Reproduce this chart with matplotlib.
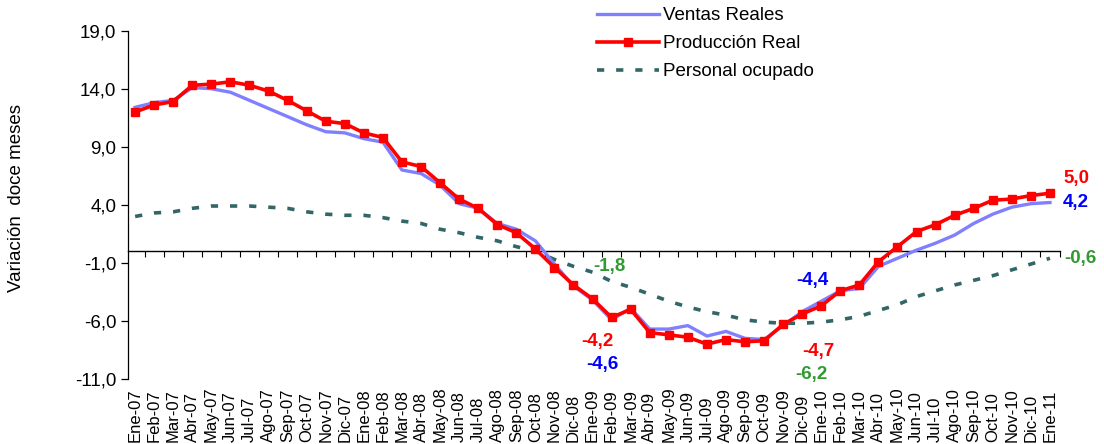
import numpy as np
import matplotlib
matplotlib.use("Agg")
import matplotlib.pyplot as plt

plt.rcParams['font.family'] = ['Liberation Sans', 'DejaVu Sans']

# meses Ene-07 .. Ene-11
meses = ['Ene', 'Feb', 'Mar', 'Abr', 'May', 'Jun', 'Jul', 'Ago', 'Sep', 'Oct', 'Nov', 'Dic']
etiquetas = [f"{m}-{a:02d}" for a in range(7, 11) for m in meses] + ['Ene-11']

produccion = [12.0, 12.6, 12.9, 14.3, 14.4, 14.6, 14.3, 13.8, 13.0, 12.1, 11.2, 11.0,
              10.2, 9.8, 7.7, 7.3, 5.9, 4.5, 3.7, 2.3, 1.6, 0.2, -1.4, -2.9,
              -4.1, -5.7, -5.0, -7.0, -7.2, -7.4, -8.0, -7.6, -7.8, -7.7, -6.3, -5.4,
              -4.7, -3.4, -2.9, -0.9, 0.4, 1.7, 2.3, 3.1, 3.7, 4.4, 4.5, 4.8,
              5.0]
ventas = [12.4, 12.8, 13.0, 14.1, 14.0, 13.7, 13.0, 12.3, 11.6, 10.9, 10.3, 10.2,
          9.7, 9.4, 7.0, 6.7, 5.7, 4.1, 3.7, 2.4, 1.9, 0.9, -1.1, -3.0,
          -4.2, -5.9, -4.9, -6.7, -6.7, -6.4, -7.3, -6.9, -7.5, -7.6, -6.4, -5.2,
          -4.3, -3.4, -3.2, -1.3, -0.6, 0.1, 0.7, 1.4, 2.4, 3.2, 3.8, 4.1,
          4.2]
personal = [3.0, 3.3, 3.4, 3.7, 3.9, 3.9, 3.9, 3.8, 3.7, 3.4, 3.2, 3.1,
            3.1, 2.9, 2.6, 2.4, 1.9, 1.6, 1.2, 0.9, 0.4, 0.0, -0.7, -1.3,
            -1.8, -2.6, -3.1, -3.7, -4.3, -4.8, -5.2, -5.5, -5.9, -6.1, -6.2, -6.2,
            -6.1, -5.9, -5.6, -5.1, -4.6, -3.9, -3.4, -2.9, -2.5, -2.1, -1.6, -1.1,
            -0.6]

# etiquetas de valores: (serie, indice, texto, color, desplazamiento en pixeles)
rotulos = [
    ('produccion', 48, '5,0', '#FF0000', (13, 15), 'left'),
    ('ventas', 48, '4,2', '#0000FF', (13, 0), 'left'),
    ('personal', 48, '-0,6', '#339933', (14, 0), 'left'),
    ('personal', 24, '-1,8', '#339933', (17, 6), 'center'),
    ('produccion', 24, '-4,2', '#FF0000', (5, -43), 'center'),
    ('ventas', 24, '-4,6', '#0000FF', (10, -64), 'center'),
    ('ventas', 36, '-4,4', '#0000FF', (-9, 21), 'center'),
    ('produccion', 36, '-4,7', '#FF0000', (-3, -46), 'center'),
    ('personal', 35, '-6,2', '#339933', (9, -51), 'center'),
]

series = {'produccion': produccion, 'ventas': ventas, 'personal': personal}
x = np.arange(len(etiquetas))

fig = plt.figure(figsize=(11.04, 4.44), dpi=100)
ax = fig.add_axes([127.5 / 1104, 1 - 379 / 444, 932 / 1104, 348.3 / 444])

ax.plot(x, ventas, color='#8080FF', lw=2.4, label='Ventas Reales', zorder=3)
ax.plot(x, produccion, color='#FF0000', lw=2.6, marker='s', markersize=6,
        label='Producción Real', zorder=4)
ax.plot(x, personal, color='#336666', lw=2.6, linestyle=(0, (2.0, 3.3)),
        label='Personal ocupado', zorder=2)

ax.set_xlim(-0.4, 48.5)
ax.set_ylim(-11, 19)
yt = np.arange(-11, 20, 5)
ax.set_yticks(yt)
ax.set_yticklabels([f"{v:.1f}".replace('.', ',') for v in yt], fontsize=13.5)
ax.tick_params(axis='y', direction='out', length=5, width=0.9, pad=3)

ax.set_xticks(x)
ax.set_xticklabels(etiquetas, rotation=90, fontsize=12, va='bottom')
ax.tick_params(axis='x', length=0, pad=45)

for s in ['top', 'right', 'bottom']:
    ax.spines[s].set_visible(False)
ax.spines['left'].set_linewidth(0.9)

# eje de categorias sobre el cero
sec = ax.secondary_xaxis(11 / 30)
sec.set_xticks(np.arange(-0.5, 49, 1.0))
sec.tick_params(axis='x', direction='out', length=4, width=0.8, labelbottom=False, labeltop=False)
for sp in sec.spines.values():
    sp.set_linewidth(1.0)

ax.set_ylabel('Variación  doce meses', fontsize=13.5)
ax.yaxis.set_label_coords(-0.11, 0.52)

for nombre, i, txt, col, (dx, dy), ha in rotulos:
    ax.annotate(txt, (x[i], series[nombre][i]), xytext=(dx * 0.72, dy * 0.72),
                textcoords='offset points', ha=ha, va='center', color=col,
                fontsize=13.5, fontweight='bold', annotation_clip=False)

ax.legend(loc='upper left', bbox_to_anchor=(597 / 1104, 1 - 7 / 444),
          bbox_transform=fig.transFigure, frameon=False, fontsize=13.5,
          handlelength=3.3, handletextpad=0.2, labelspacing=0.58,
          borderpad=0, borderaxespad=0, numpoints=1)

fig.savefig('out.png', dpi=100)
